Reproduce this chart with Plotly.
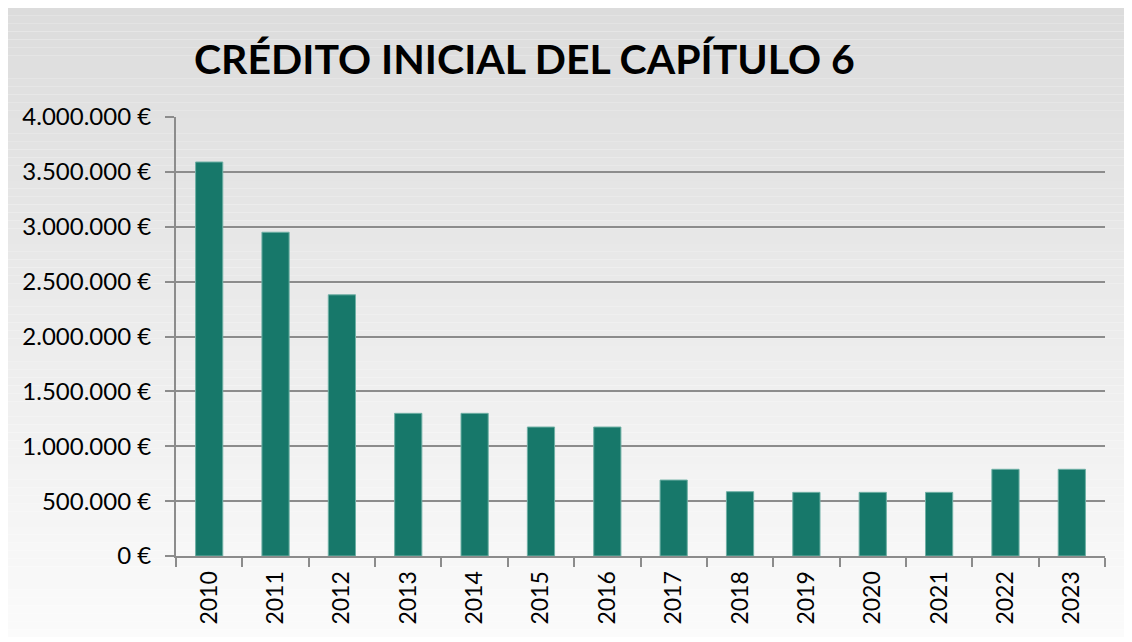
import plotly.graph_objects as go

years = ["2010", "2011", "2012", "2013", "2014", "2015", "2016",
         "2017", "2018", "2019", "2020", "2021", "2022", "2023"]
credito = [3590000, 2950000, 2380000, 1300000, 1300000, 1175000, 1175000,
           692000, 586000, 580000, 580000, 580000, 790000, 790000]
tick_vals = [0, 500000, 1000000, 1500000, 2000000, 2500000, 3000000, 3500000, 4000000]
tick_text = ["0 €", "500.000 €", "1.000.000 €", "1.500.000 €", "2.000.000 €",
             "2.500.000 €", "3.000.000 €", "3.500.000 €", "4.000.000 €"]
title_text = "CRÉDITO INICIAL DEL CAPÍTULO 6"

OFF = 8  # default body margin of the html page
W, H = 1132 - OFF, 642 - OFF
L, R, T, B = 176 - OFF, 1105 - OFF, 117 - OFF, 556 - OFF
pw, ph = R - L, B - T

def px_x(px):
    return (px - OFF - L) / pw

def px_y(py):
    return (B - (py - OFF)) / ph

fig = go.Figure()
fig.add_trace(go.Bar(
    x=years, y=credito,
    marker=dict(color="#17786a", line=dict(color="#6fb0a5", width=1)),
    width=0.41,
))

shapes = []
top, bot, left, right = 8, 637, 8, 1130
n = 80
for i in range(n):
    y0 = top + (bot - top) * i / n
    y1 = top + (bot - top) * (i + 1) / n
    f = (i + 0.5) / n
    c = int(round(220 + (251 - 220) * f))
    shapes.append(dict(type="rect", xref="paper", yref="paper",
                       x0=px_x(left), x1=px_x(right), y0=px_y(y1), y1=px_y(y0),
                       fillcolor=f"rgb({c},{c},{c})", line=dict(width=0), layer="below"))

fig.update_layout(
    width=W, height=H,
    margin=dict(l=L, r=W - R, t=T, b=H - B, pad=0),
    paper_bgcolor="white",
    plot_bgcolor="rgba(0,0,0,0)",
    showlegend=False,
    shapes=shapes,
    font=dict(family="Lato, Open Sans, sans-serif", color="black"),
    annotations=[dict(
        text=f"<b>{title_text}</b>", xref="paper", yref="paper",
        x=px_x(192), y=px_y(59), xanchor="left", yanchor="middle",
        showarrow=False, font=dict(size=41, family="Lato, Open Sans, sans-serif", color="black"),
    )],
)
fig.update_yaxes(
    range=[0, 4000000], tickvals=tick_vals, ticktext=tick_text,
    showgrid=True, gridcolor="#8c8c8c", gridwidth=2,
    showline=True, linecolor="#8c8c8c", linewidth=2,
    ticks="outside", ticklen=9, tickcolor="#8c8c8c", tickwidth=2,
    ticklabelstandoff=9,
    tickfont=dict(size=24, color="black"), zeroline=False,
)
fig.update_xaxes(
    showline=True, linecolor="#8c8c8c", linewidth=2,
    ticks="outside", ticklen=9, tickcolor="#8c8c8c", tickwidth=2,
    tickson="boundaries", tickangle=-90, ticklabelstandoff=4,
    tickfont=dict(size=23, color="black"), showgrid=False,
)

fig.write_html("out.html")
